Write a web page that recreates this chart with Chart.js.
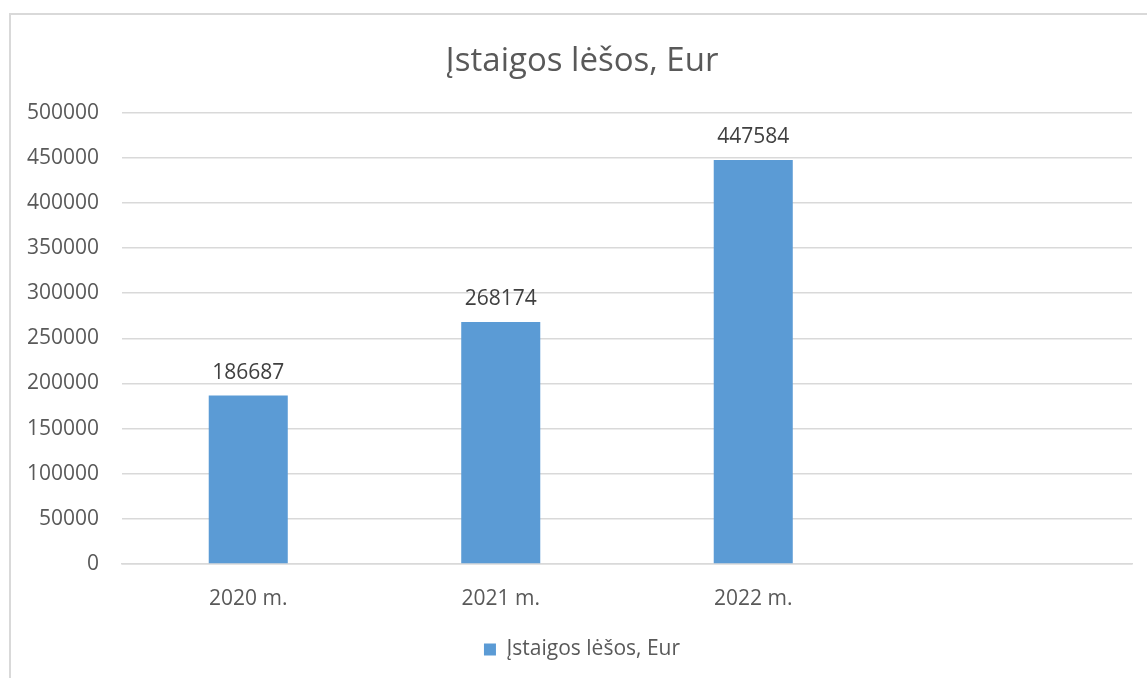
<!DOCTYPE html>
<html>
<head>
<meta charset="utf-8">
<script src="https://cdn.jsdelivr.net/npm/chart.js@4/dist/chart.umd.min.js"></script>
<style>
  html, body { margin: 0; padding: 0; background: #fff; }
  #wrap { position: relative; width: 1147px; height: 678px; overflow: hidden; }
  #frame { position: absolute; left: 9px; top: 13px; width: 1200px; height: 700px;
           border-left: 2px solid #d9d9d9; border-top: 2px solid #d9d9d9; }
  canvas { position: absolute; left: 0; top: 0; }
</style>
</head>
<body>
<div id="wrap">
  <div id="frame"></div>
  <canvas id="grafica" width="1176" height="678"></canvas>
</div>
<script>
const metai = ['2020 m.', '2021 m.', '2022 m.', ''];
const lesos = [186687, 268174, 447584, null];
const pavadinimas = 'Įstaigos lėšos, Eur';

const spalva = '#5b9bd5';
const tekstas = '#595959';
Chart.defaults.font.family = '"Open Sans", "Noto Sans", sans-serif';

// reiksmes virs stulpeliu
const reiksmes = {
    id: 'reiksmes',
    afterDatasetsDraw(chart) {
        const ctx = chart.ctx;
        const meta = chart.getDatasetMeta(0);
        ctx.save();
        ctx.font = '21px "Open Sans", "Noto Sans", sans-serif';
        ctx.fillStyle = '#404040';
        ctx.textAlign = 'center';
        ctx.textBaseline = 'bottom';
        meta.data.forEach((bar, i) => {
            if (lesos[i] == null) return;
            ctx.fillText(String(lesos[i]), bar.x, bar.y - 12);
        });
        ctx.restore();
    }
};

const config = {
    type: 'bar',
    data: {
        labels: metai,
        datasets: [{
            label: pavadinimas,
            data: lesos,
            backgroundColor: spalva,
            borderWidth: 0,
            barPercentage: 0.313,
            categoryPercentage: 1
        }]
    },
    options: {
        responsive: false,
        devicePixelRatio: 1,
        animation: false,
        layout: { padding: { left: 10, right: 22, top: 14, bottom: 8 } },
        scales: {
            y: {
                min: 0,
                max: 500000,
                ticks: {
                    stepSize: 50000, color: tekstas, font: { size: 21 }, padding: 23,
                    callback: v => String(v)
                },
                grid: { color: '#d9d9d9', lineWidth: 1.5, drawTicks: false },
                border: { display: false },
                afterFit(scale) { scale.width = 112; }
            },
            tarpas: {
                type: 'linear',
                position: 'right',
                ticks: { display: false },
                grid: { display: false, drawTicks: false },
                border: { display: false },
                afterFit(scale) { scale.width = 22; }
            },
            x: {
                ticks: { color: tekstas, font: { size: 21 }, padding: 22 },
                grid: { display: false, drawTicks: false },
                border: { color: '#d9d9d9', width: 1.5 },
                afterFit(scale) { scale.height = 65; }
            }
        },
        plugins: {
            title: {
                display: true,
                text: pavadinimas,
                color: tekstas,
                font: { size: 33, weight: 'normal' },
                padding: { top: 28, bottom: 31 }
            },
            legend: {
                position: 'bottom',
                labels: { color: tekstas, font: { size: 21 }, boxWidth: 12, boxHeight: 12, padding: 10 }
            },
            tooltip: { enabled: false }
        }
    },
    plugins: [reiksmes]
};

const myChart = new Chart(document.getElementById('grafica'), config);
</script>
</body>
</html>
